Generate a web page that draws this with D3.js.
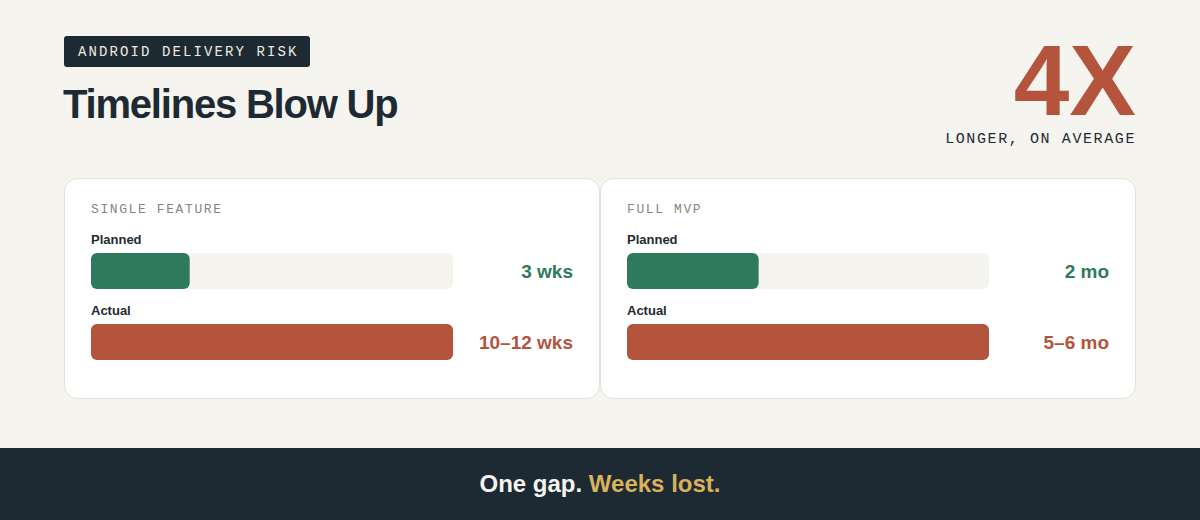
<!DOCTYPE html>
<html><head><meta charset="utf-8">
<script src="https://cdn.jsdelivr.net/npm/d3@7"></script>
<style>
html,body{margin:0;padding:0;background:#f5f4ef;}
svg{display:block;}
</style></head>
<body>
<svg id="chart" width="1200" height="520"></svg>
<script>
const panels = ["SINGLE FEATURE", "FULL MVP"];
const seriesNames = ["Planned", "Actual"];
const plannedValues = [3, 2];
const actualValues = [11, 5.5]; // midpoints of 10–12 wks and 5–6 mo
const valueLabels = [["3 wks", "10–12 wks"], ["2 mo", "5–6 mo"]];

const svg = d3.select("#chart");
const mono = "'Liberation Mono','DejaVu Sans Mono',monospace";
const sans = "'Liberation Sans',Arial,sans-serif";
const green = "#2f7a5d", red = "#b5543d", dark = "#1e2a33";

svg.append("rect").attr("width",1200).attr("height",520).attr("fill","#f5f4ef");

// tag
svg.append("rect").attr("x",64).attr("y",36).attr("width",246).attr("height",31).attr("rx",3).attr("fill",dark);
svg.append("text").attr("x",78).attr("y",56).attr("font-family",mono).attr("font-size",14)
  .attr("letter-spacing",2.1).attr("fill","#eeeae2").text("ANDROID DELIVERY RISK");
svg.append("text").attr("x",63).attr("y",118).attr("font-family",sans).attr("font-weight",700)
  .attr("font-size",40).attr("letter-spacing",-1.2).attr("fill",dark).text("Timelines Blow Up");

// big stat
svg.append("text").attr("x",1136).attr("y",115).attr("text-anchor","end").attr("font-family",sans)
  .attr("font-weight",700).attr("font-size",100).attr("letter-spacing",0).attr("fill",red).text("4X");
svg.append("text").attr("x",1136).attr("y",143).attr("text-anchor","end").attr("font-family",mono)
  .attr("font-size",15).attr("letter-spacing",1.6).attr("fill",dark).text("LONGER, ON AVERAGE");

// cards
const cardX = d3.scaleOrdinal().domain(panels).range([64, 600]);
const cardW = 535, cardY = 178, cardH = 220;
const barW = 362, barH = 36;

panels.forEach((p, i) => {
  const cx = cardX(p);
  const g = svg.append("g").attr("transform", `translate(${cx},${cardY})`);
  g.append("rect").attr("x",0.5).attr("y",0.5).attr("width",cardW).attr("height",cardH)
    .attr("rx",13).attr("fill","#fff").attr("stroke","#e4e1d7");
  g.append("text").attr("x",27).attr("y",35).attr("font-family",mono).attr("font-size",13)
    .attr("letter-spacing",1.6).attr("fill","#8a847c").text(p);

  const x = d3.scaleLinear().domain([0, actualValues[i]]).range([0, barW]);
  const y = d3.scaleOrdinal().domain(seriesNames).range([75, 146]);
  const vals = [plannedValues[i], actualValues[i]];
  const cols = [green, red];

  seriesNames.forEach((s, j) => {
    const by = y(s);
    g.append("text").attr("x",27).attr("y",by-9).attr("font-family",sans).attr("font-weight",700)
      .attr("font-size",13).attr("fill",dark).text(s);
    g.append("rect").attr("x",27).attr("y",by).attr("width",barW).attr("height",barH)
      .attr("rx",6).attr("fill","#f5f4ef");
    g.append("rect").attr("x",27).attr("y",by).attr("width",x(vals[j])).attr("height",barH)
      .attr("rx",6).attr("fill",cols[j]);
    g.append("text").attr("x",509).attr("y",by+25).attr("text-anchor","end").attr("font-family",sans)
      .attr("font-weight",700).attr("font-size",19).attr("fill",cols[j]).text(valueLabels[i][j]);
  });
});

// footer
svg.append("rect").attr("x",0).attr("y",448).attr("width",1200).attr("height",72).attr("fill",dark);
const ft = svg.append("text").attr("x",600).attr("y",492).attr("text-anchor","middle")
  .attr("font-family",sans).attr("font-weight",700).attr("font-size",24);
ft.append("tspan").attr("fill","#f5f4ef").text("One gap. ");
ft.append("tspan").attr("fill","#d9b25a").text("Weeks lost.");
</script>
</body></html>
